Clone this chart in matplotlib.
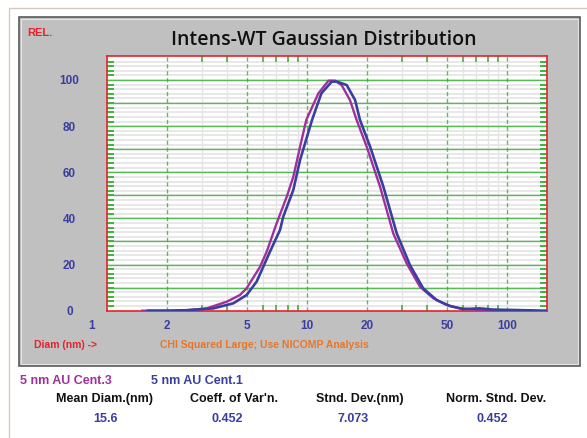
import numpy as np
import matplotlib.pyplot as plt
from matplotlib.patches import Rectangle

# curve: diameter (nm) vs relative intensity
cent3_diam = [1.5, 2.0, 2.5, 3.15, 3.97, 4.62, 4.99, 5.82, 6.29, 7.05, 7.92, 8.54, 9.23,
              9.92, 11.4, 12.8, 13.8, 14.9, 16.4, 17.7, 19.9, 23.2, 27.0, 31.5, 36.7,
              42.8, 49.9, 58.2, 73, 85]
cent3_int = [0, 0, 0.2, 1.0, 3.9, 6.8, 9.7, 19, 25.6, 37.9, 49.4, 58, 71,
             82.7, 94.2, 99.7, 99.7, 97.8, 91.3, 82.7, 71, 53.7, 33.5, 20.5, 10.4,
             5.4, 2.5, 1.0, 0.3, 0]

cent1_diam = [1.6, 2.0, 2.5, 3.4, 4.28, 4.99, 5.6, 6.53, 7.33, 7.61, 8.54, 9.23, 10.6,
              11.8, 13.3, 14.1, 15.8, 17.4, 18.4, 20.7, 24.1, 28.1, 32.7, 38.1, 44.5,
              51.9, 60.5, 73, 85, 158]
cent1_int = [0, 0, 0.2, 1.0, 3.2, 6.8, 12.6, 25.6, 35, 40.8, 52.3, 65.3, 82.7,
             94.2, 99.3, 99.3, 97.8, 91.3, 82.7, 71, 53.7, 33.5, 19.8, 9.7, 4.6,
             2.0, 0.7, 1.0, 0.5, 0]

x_ticks = [1, 2, 5, 10, 20, 50, 100]
x_minor = [3, 4, 6, 7, 8, 9, 30, 40, 60, 70, 80, 90]
y_ticks = [0, 20, 40, 60, 80, 100]

series_names = ["5 nm AU Cent.3", "5 nm AU Cent.1"]
stat_names = ["Mean Diam.(nm)", "Coeff. of Var'n.", "Stnd. Dev.(nm)", "Norm. Stnd. Dev."]
stat_values = ["15.6", "0.452", "7.073", "0.452"]

W, H = 587, 438
BLUE = "#3a3e9e"
MAGENTA = "#a0309a"
RED = "#e8202a"
GREEN = "#3cb43c"
FONT = ["Liberation Sans", "DejaVu Sans"]


def fx(x):
    return x / W


def fy(y):
    return 1 - y / H


fig = plt.figure(figsize=(W / 100, H / 100), dpi=100)
fig.patch.set_facecolor("white")

# outer beige frame and grey panel, kept behind the axes
fig.add_artist(Rectangle((fx(9), fy(445)), fx(600), fy(8) - fy(445), transform=fig.transFigure,
                         facecolor="none", edgecolor="#d8c8c0", lw=1, zorder=-3))
fig.add_artist(Rectangle((fx(19), fy(366)), fx(561), fy(17) - fy(366), transform=fig.transFigure,
                         facecolor="#c0c0c0", edgecolor="#5a5a5a", lw=1.2, zorder=-2))
fig.add_artist(Rectangle((fx(21), fy(364)), fx(557), fy(19) - fy(364), transform=fig.transFigure,
                         facecolor="none", edgecolor="#e4e4e4", lw=0.8, zorder=-1))

ax = fig.add_axes([fx(107), fy(310.7), fx(440), fy(56) - fy(310.7)])
ax.set_zorder(1)
ax.set_facecolor("white")
ax.set_xscale("log")
ax.set_xlim(1, 158.5)
ax.set_ylim(0, 110.4)

for v in np.arange(2, 110, 2):
    ax.axhline(v, color="#e6e6e6", lw=1.3, zorder=0)
for v in np.arange(10, 110, 10):
    ax.axhline(v, color=GREEN, lw=1, alpha=0.85, zorder=1)
for d in x_minor:
    ax.axvline(d, color="#e4e4e4", lw=1, zorder=0)
for d in x_ticks[1:]:
    ax.axvline(d, color=GREEN, lw=1, ls=(0, (3, 2)), alpha=0.85, zorder=1)

ax.plot(cent3_diam, cent3_int, color=MAGENTA, lw=1.7, zorder=3)
ax.plot(cent1_diam, cent1_int, color=BLUE, lw=1.9, zorder=4)

for s in ax.spines.values():
    s.set_color(RED)
    s.set_linewidth(1.2)

# the first label ("1") sits left of the axis edge in the original
ax.set_xticks(x_ticks)
ax.set_xticklabels([""] + [str(t) for t in x_ticks[1:]])
ax.annotate(str(x_ticks[0]), xy=(x_ticks[0], 0), xycoords=("data", "axes fraction"),
            xytext=(-11, -11), textcoords="offset points", ha="center", va="center",
            fontsize=8.5, color=BLUE, fontweight="bold", family=FONT, annotation_clip=False)
ax.set_xticks(x_minor, minor=True)
ax.set_yticks(y_ticks)
ax.set_yticks(np.arange(2, 110, 2), minor=True)
ax.tick_params(axis="x", which="major", length=0, pad=7, labelcolor=BLUE, labelsize=8.5)
ax.tick_params(axis="x", which="minor", direction="in", top=True, bottom=True,
               length=4, width=1.2, color=GREEN, labelbottom=False)
ax.tick_params(axis="y", which="major", length=0, pad=27, labelcolor=BLUE, labelsize=8.5)
ax.tick_params(axis="y", which="minor", direction="in", left=True, right=True,
               length=5, width=1.4, color=GREEN)
for lab in ax.get_xticklabels() + ax.get_yticklabels():
    lab.set_fontweight("bold")
    lab.set_family(FONT)
for lab in ax.get_yticklabels():
    lab.set_ha("center")

fig.text(fx(324), fy(40), "Intens-WT Gaussian Distribution", ha="center", va="center",
         fontsize=14, color="#111111", family=["Open Sans", "DejaVu Sans"], fontweight="semibold")
fig.text(fx(27), fy(33), "REL.", ha="left", va="center", fontsize=8, color=RED,
         fontweight="bold", family=FONT)
fig.text(fx(34), fy(345), "Diam (nm) ->", ha="left", va="center", fontsize=7.5, color=RED,
         fontweight="bold", family=FONT)
fig.text(fx(160), fy(345), "CHI Squared Large; Use NICOMP Analysis", ha="left", va="center",
         fontsize=7.5, color="#e8762a", fontweight="bold", family=FONT)

fig.text(fx(20), fy(381), series_names[0], ha="left", va="center", fontsize=9,
         color=MAGENTA, fontweight="bold", family=FONT)
fig.text(fx(151), fy(381), series_names[1], ha="left", va="center", fontsize=9,
         color=BLUE, fontweight="bold", family=FONT)

head_x = [104, 234, 360, 496]
val_x = [106, 227, 353, 492]
for name, val, hx, vx in zip(stat_names, stat_values, head_x, val_x):
    fig.text(fx(hx), fy(399), name, ha="center", va="center", fontsize=9,
             color="#111111", fontweight="bold", family=FONT)
    fig.text(fx(vx), fy(419), val, ha="center", va="center", fontsize=9,
             color=BLUE, fontweight="bold", family=FONT)

fig.savefig("out.png", dpi=100)
